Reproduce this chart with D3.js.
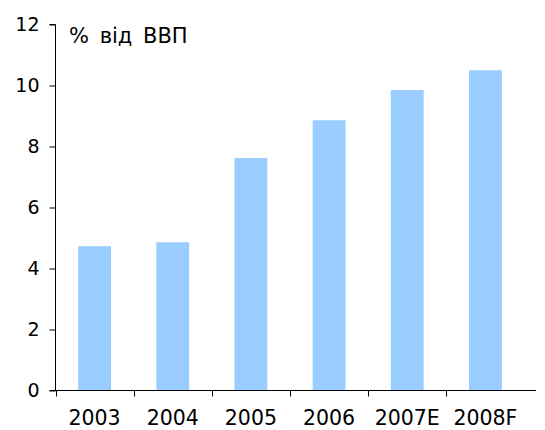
<!DOCTYPE html>
<html>
<head>
<meta charset="utf-8">
<script src="https://cdn.jsdelivr.net/npm/d3@7"></script>
<style>
  html, body { margin: 0; padding: 0; background: #fff; }
  svg { display: block; }
  text { font-family: "DejaVu Sans", Verdana, sans-serif; fill: #000; }
</style>
</head>
<body>
<svg id="chart" width="545" height="430"></svg>
<script>
const categories = ["2003", "2004", "2005", "2006", "2007E", "2008F"];
const values = [4.73, 4.86, 7.62, 8.86, 9.85, 10.5];
const yTicks = [0, 2, 4, 6, 8, 10, 12];
const unitLabel = "% від ВВП";

const svg = d3.select("#chart");
const mLeft = 55.5, mRight = 524.5, mTop = 24.5, mBottom = 390.5;

const x = d3.scaleBand().domain(categories).range([mLeft, mRight])
  .paddingInner(0.58).paddingOuter(0.29);
const y = d3.scaleLinear().domain([0, 12]).range([mBottom, mTop]);

// bars
svg.append("g").selectAll("rect").data(values).join("rect")
  .attr("x", (d, i) => x(categories[i]))
  .attr("width", x.bandwidth())
  .attr("y", d => y(d))
  .attr("height", d => y(0) - y(d))
  .attr("fill", "#99CCFF");

// y axis
const yAxis = svg.append("g").attr("transform", `translate(${mLeft},0)`)
  .call(d3.axisLeft(y).tickValues(yTicks).tickSize(6).tickPadding(10).tickFormat(d3.format("d")));
yAxis.select(".domain").attr("stroke", "#000").attr("d", `M-6,${mTop}H0V${mBottom}`);
yAxis.selectAll(".tick line").attr("stroke", "#000");
yAxis.selectAll(".tick text").style("font-size", "19px").attr("fill", "#000");

// x axis
const boundaryIdx = d3.range(categories.length);
const xb = d3.scaleLinear().domain([0, categories.length]).range([mLeft, mRight]);
const xAxis = svg.append("g").attr("transform", `translate(0,${mBottom})`);
xAxis.append("path").attr("d", `M${mLeft - 6},0H536`).attr("stroke", "#000").attr("fill", "none");
xAxis.selectAll("line.tk").data(boundaryIdx).join("line")
  .attr("class", "tk")
  .attr("x1", d => Math.round(xb(d)) + 0.5).attr("x2", d => Math.round(xb(d)) + 0.5)
  .attr("y1", 0).attr("y2", 6).attr("stroke", "#000");
xAxis.selectAll("text").data(categories).join("text")
  .attr("x", d => x(d) + x.bandwidth() / 2)
  .attr("y", 34.5)
  .attr("text-anchor", "middle")
  .style("font-size", "20.5px")
  .text(d => d);

// unit label
svg.append("text").attr("x", 69).attr("y", 43)
  .style("font-size", "21px").style("word-spacing", "4px")
  .text(unitLabel);
</script>
</body>
</html>
